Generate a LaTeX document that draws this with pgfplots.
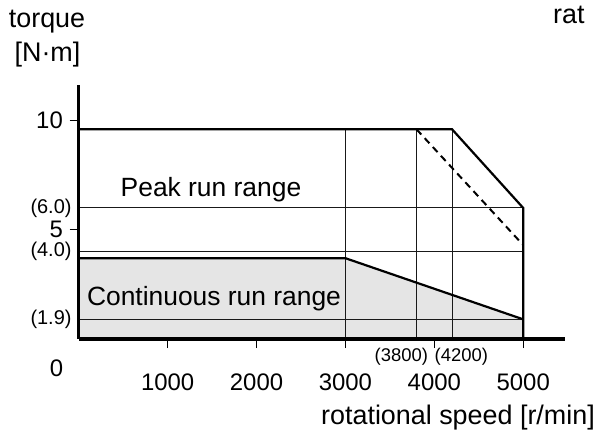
\documentclass[border=0pt]{standalone}
\usepackage{pgfplots}
\pgfplotsset{compat=1.18}
\usepackage{fontspec}
\setmainfont{Liberation Sans}
\begin{document}
\begin{tikzpicture}
\useasboundingbox (0,0) rectangle (607bp,435bp);
\begin{axis}[
  at={(78.7bp,96bp)}, anchor=south west,
  scale only axis, width=486.3bp, height=254bp,
  xmin=0, xmax=5470, ymin=0, ymax=11.63,
  axis x line=bottom, axis y line=left,
  axis line style={-, line width=3bp, black},
  tick align=outside, major tick length=9bp,
  tick style={line width=1.1bp, black},
  xtick={1000,2000,3000,4000,5000},
  xticklabels={1000,2000,3000,4000,5000},
  ytick={5,10}, yticklabels={5,10},
  xticklabel style={font=\fontsize{24}{28}\selectfont, anchor=base, inner sep=0pt, yshift=-42bp},
  yticklabel style={font=\fontsize{24}{28}\selectfont, anchor=east, inner sep=0pt, xshift=-6.7bp},
  extra x ticks={3800,4200},
  extra x tick labels={{\raisebox{28.3bp}{(3800)}\hspace*{30.4bp}},{\hspace*{18.4bp}\raisebox{28.3bp}{(4200)}}},
  extra x tick style={tick style={draw=none}, xticklabel style={font=\fontsize{18.5}{22}\selectfont}},
  extra y ticks={6,4,0.9},
  extra y tick labels={(6.0),(4.0),(1.9)},
  extra y tick style={tick style={draw=none}, yticklabel style={font=\fontsize{20}{24}\selectfont, xshift=8.7bp}},
  axis on top,
  clip=false,
]
\addplot[fill=gray!20, draw=none] coordinates {(0,0) (0,3.7) (3000,3.7) (5000,0.9) (5000,0)} -- cycle;
% thin grid lines
\addplot[black!90, line width=1bp] coordinates {(0,6) (5000,6)};
\addplot[black!90, line width=1bp] coordinates {(0,4) (5000,4)};
\addplot[black!90, line width=1bp] coordinates {(0,0.9) (5000,0.9)};
\addplot[black!90, line width=1bp] coordinates {(3000,0) (3000,9.6)};
\addplot[black!90, line width=1bp] coordinates {(3800,0) (3800,9.6)};
\addplot[black!90, line width=1bp] coordinates {(4200,0) (4200,9.6)};
% boundaries
\addplot[black, line width=2.2bp] coordinates {(0,9.6) (4200,9.6) (5000,6.0) (5000,0)};
\addplot[black, line width=2.2bp] coordinates {(0,3.7) (3000,3.7) (5000,0.9)};
\addplot[black, line width=2bp, dash pattern=on 7bp off 5bp] coordinates {(3800,9.6) (5000,4.3)};
\node[anchor=base, inner sep=0pt, font=\fontsize{26.5}{30}\selectfont] at (axis cs:1488,6.52) {Peak run range};
\node[anchor=base, inner sep=0pt, font=\fontsize{26.5}{30}\selectfont] at (axis cs:1522,1.53) {Continuous run range};
\end{axis}
\node[anchor=base, inner sep=0pt, font=\fontsize{27}{31}\selectfont] at (47bp,407.7bp) {torque};
\node[anchor=base, inner sep=0pt, font=\fontsize{27}{31}\selectfont] at (47.5bp,373.7bp) {[N·m]};
\node[anchor=base west, inner sep=0pt, font=\fontsize{27}{31}\selectfont] at (553bp,411bp) {rat};
\node[anchor=base east, inner sep=0pt, font=\fontsize{27}{31}\selectfont] at (595bp,10.7bp) {rotational speed [r/min]};
\node[anchor=base, inner sep=0pt, font=\fontsize{24}{28}\selectfont] at (56.5bp,58bp) {0};
\end{tikzpicture}
\end{document}
